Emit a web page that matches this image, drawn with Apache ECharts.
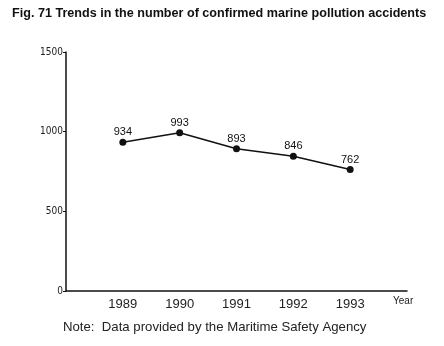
<!DOCTYPE html>
<html><head><meta charset="utf-8">
<script src="https://cdn.jsdelivr.net/npm/echarts@6/dist/echarts.min.js"></script>
<style>html,body{margin:0;padding:0;background:#fff}#c{width:444px;height:346px}</style>
</head><body><div id="c"></div>
<script>
var years = [1989, 1990, 1991, 1992, 1993];
var accidents = [934, 993, 893, 846, 762];
var yTicks = [0, 500, 1000, 1500];

var chart = echarts.init(document.getElementById('c'), null, {renderer: 'canvas'});
chart.setOption({
  animation: false,
  backgroundColor: '#fff',
  title: {
    text: 'Fig. 71 Trends in the number of confirmed marine pollution accidents',
    left: 7, top: 2,
    textStyle: {fontFamily: 'Liberation Sans', fontWeight: 'bold', fontSize: 12.6, color: '#111'}
  },
  graphic: [{
    type: 'text', left: 63, top: 321,
    style: {text: 'Note:  Data provided by the Maritime Safety Agency', font: '13.2px "Liberation Sans"', fill: '#222'}
  }, {
    type: 'text', left: 393, top: 296,
    style: {text: 'Year', font: '10px "Liberation Sans"', fill: '#222'}
  }],
  grid: {left: 66, right: 37, top: 52, bottom: 55},
  xAxis: {
    type: 'value', min: 1988, max: 1994, interval: 1,
    axisLine: {lineStyle: {color: '#111', width: 1.5}},
    axisTick: {show: false},
    splitLine: {show: false},
    axisLabel: {
      margin: 7, fontSize: 13, fontFamily: 'Liberation Sans', color: '#222',
      formatter: function (v) { return years.indexOf(v) >= 0 ? String(v) : ''; }
    }
  },
  yAxis: {
    type: 'value', min: 0, max: 1500, interval: 500,
    axisLine: {show: true, lineStyle: {color: '#111', width: 1.5}},
    axisTick: {show: true, length: 3, lineStyle: {color: '#111'}},
    splitLine: {show: false},
    axisLabel: {
      margin: 3, fontSize: 10, fontFamily: '"DejaVu Sans Condensed", "Liberation Sans"', color: '#222',
      formatter: function (v) { return yTicks.indexOf(v) >= 0 ? String(v) : ''; }
    }
  },
  series: [{
    type: 'line',
    data: years.map(function (y, i) { return [y, accidents[i]]; }),
    symbol: 'circle', symbolSize: 7,
    itemStyle: {color: '#111'},
    lineStyle: {color: '#111', width: 1.5},
    label: {show: true, position: 'top', distance: 1, fontSize: 11, fontFamily: 'Liberation Sans', color: '#111',
      formatter: function (p) { return String(p.value[1]); }}
  }]
});
</script></body></html>
